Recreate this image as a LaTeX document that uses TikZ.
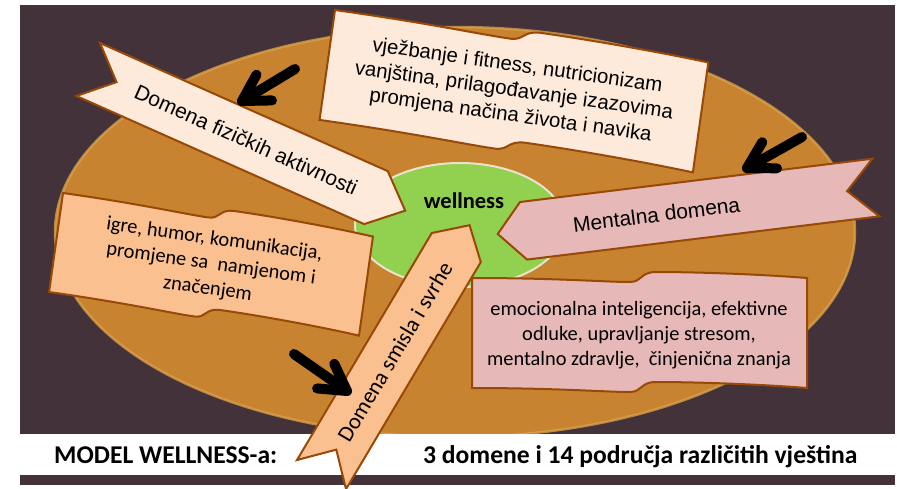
\documentclass[tikz,border=0pt]{standalone}
\usepackage{fontspec}
\setmainfont{Carlito}
\newfontfamily\arialf{Liberation Sans}
\usetikzlibrary{calc}
\definecolor{darkbg}{HTML}{43323A}
\definecolor{orng}{HTML}{C7832F}
\definecolor{rim}{HTML}{DDA54C}
\definecolor{grn}{HTML}{92D050}
\definecolor{grnrim}{HTML}{E9E2CC}
\definecolor{peach}{HTML}{FDEADA}
\definecolor{lorange}{HTML}{FAC090}
\definecolor{pinkc}{HTML}{E6B9B8}
\definecolor{brd}{HTML}{984807}
\newcommand{\wavebox}[3]{%
  \path[#3] (0,0) .. controls ({0.25*#1},0) and ({0.40*#1},4) .. ({0.47*#1},4)
   .. controls ({0.51*#1},4) and ({0.50*#1},-6) .. ({0.55*#1},-6)
   .. controls ({0.66*#1},-6) and ({0.85*#1},-4) .. (#1,0)
   -- (#1,#2)
   .. controls ({0.85*#1},{#2-4}) and ({0.66*#1},{#2-6}) .. ({0.55*#1},{#2-6})
   .. controls ({0.50*#1},{#2-6}) and ({0.51*#1},{#2+4}) .. ({0.47*#1},{#2+4})
   .. controls ({0.40*#1},{#2+4}) and ({0.25*#1},#2) .. (0,#2) -- cycle;}
\tikzset{
  outl/.style={draw=brd, line width=2pt, line join=miter},
  arialtxt/.style={inner sep=0pt, align=center, font=\arialf\fontsize{20.4}{25}\selectfont},
  calitxt/.style={inner sep=0pt, align=center, font=\fontsize{20.4}{25}\selectfont},
  ribarial/.style={inner sep=0pt, font=\arialf\fontsize{21}{25}\selectfont},
  boldtxt/.style={inner sep=0pt, anchor=base west, font=\bfseries\fontsize{25.6}{30}\selectfont},
  blkarrow/.style={line width=10pt, black, line cap=round, line join=round}
}
\begin{document}
\begin{tikzpicture}[x=1pt, y=-1pt]
\useasboundingbox (0,0) rectangle (897,488);
\fill[white] (0,0) rectangle (897,488);
\fill[darkbg] (20,5) rectangle (895,485);
% big orange ellipse
\fill[orng] (455,232) ellipse [x radius=400pt, y radius=205pt];
\draw[rim, line width=2.5pt, opacity=.75] (455,232) ellipse [x radius=400pt, y radius=205pt];
% green centre
\draw[fill=grn, draw=grnrim, line width=2pt] (460,225) ellipse [x radius=105pt, y radius=62pt];
\node[inner sep=0pt, font=\bfseries\fontsize{22.5}{26}\selectfont] (well) at (464,201) {wellness};
% top scroll
\begin{scope}[shift={(335,10)}, rotate=-8]
  \wavebox{377}{111}{fill=peach, outl}
  \node[arialtxt, rotate=-8] (phystxt) at (188.5,55.5) {vježbanje i fitness, nutricionizam\\vanjština, prilagođavanje izazovima\\promjena načina života i navika};
\end{scope}
% left scroll
\begin{scope}[shift={(63,193)}, rotate=-8]
  \wavebox{313}{100}{fill=lorange, outl}
  \node[calitxt, rotate=-8] (meantxt) at (156.5,50) {igre, humor, komunikacija,\\promjene sa\ \ namjenom i\\značenjem};
\end{scope}
% pink scroll
\begin{scope}[shift={(472,278)}]
  \wavebox{335}{110}{fill=pinkc, outl}
  \node[calitxt] (menttxt) at (167,57) {emocionalna inteligencija, efektivne\\odluke, upravljanje stresom,\\mentalno zdravlje,\ \ činjenična znanja};
\end{scope}
% ribbon: physical domain
\begin{scope}[shift={(100,43)}, rotate=-24]
  \draw[outl, fill=peach] (0,0) -- (315,0) -- (347,29) -- (315,58) -- (0,58) -- (31,29) -- cycle;
  \node[ribarial, rotate=-24] (physrib) at (173,29) {Domena fizičkih aktivnosti};
\end{scope}
% ribbon: mental domain
\begin{scope}[shift={(520,202)}, rotate=7]
  \draw[outl, fill=pinkc] (0,0) -- (355,0) -- (326,29) -- (355,58) -- (0,58) -- (-26,29) -- cycle;
  \node[ribarial, rotate=7] (mentrib) at (134,29) {Mentalna domena};
\end{scope}
% white caption band
\fill[white] (20,434) rectangle (895,475);
\node[boldtxt] (cap1) at (54,463) {MODEL WELLNESS-a:};
\node[boldtxt] (cap2) at (423,463) {3 domene i 14 područja različitih vještina};
% ribbon: meaning domain
\begin{scope}[shift={(297,460)}, rotate=59.3]
  \draw[outl, fill=lorange] (0,0) -- (264,0) -- (290,28.5) -- (264,57) -- (0,57) -- (29,28.5) -- cycle;
  \node[inner sep=0pt, font=\fontsize{22.5}{26}\selectfont, rotate=59.3] (meanrib) at (143,29) {Domena smisla i svrhe};
\end{scope}
% black arrows
\coordinate (s1) at (295,69);  \coordinate (t1) at (242,101);
\coordinate (s2) at (802,137); \coordinate (t2) at (747,168);
\coordinate (s3) at (294,354); \coordinate (t3) at (347,391);
\foreach \i in {1,2,3}{
  \draw[blkarrow] (s\i) -- (t\i);
  \draw[blkarrow] ($(t\i)!30pt!30:(s\i)$) -- (t\i) -- ($(t\i)!30pt!-30:(s\i)$);
}
\end{tikzpicture}
\end{document}
